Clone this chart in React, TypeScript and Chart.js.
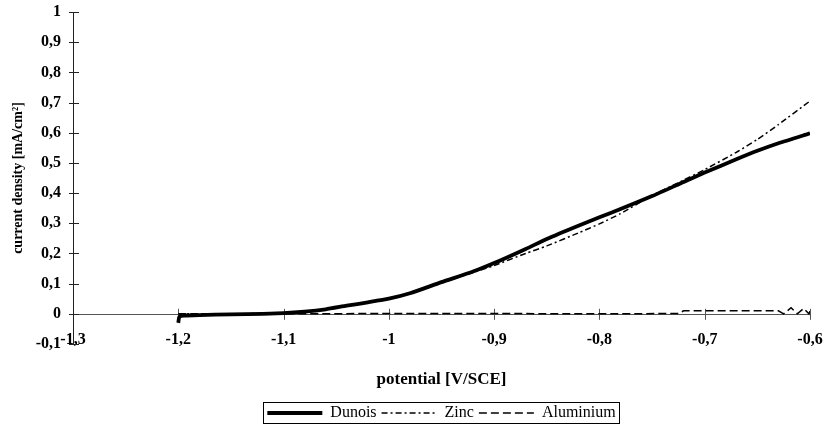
import React, { useEffect, useRef } from "react";
import { Chart, registerables } from "chart.js";

Chart.register(...registerables);

const xTicksMin = -1.3;
const xTicksMax = -0.6;
const yTicksMin = -0.1;
const yTicksMax = 1;

const dunoisX = [-1.2, -1.199, -1.195, -1.18, -1.15, -1.12, -1.1, -1.08, -1.06, -1.04, -1.02, -1.0, -0.98, -0.95, -0.92, -0.9, -0.87, -0.85, -0.82, -0.8, -0.78, -0.75, -0.72, -0.7, -0.67, -0.65, -0.63, -0.6];
const dunoisY = [-0.03, -0.01, -0.006, -0.004, -0.002, 0.0, 0.002, 0.007, 0.015, 0.027, 0.038, 0.05, 0.068, 0.105, 0.14, 0.168, 0.215, 0.248, 0.292, 0.32, 0.347, 0.39, 0.437, 0.468, 0.512, 0.54, 0.565, 0.598];

const zincX = [-1.2, -1.15, -1.1, -1.08, -1.06, -1.04, -1.02, -1.0, -0.98, -0.95, -0.92, -0.9, -0.87, -0.85, -0.82, -0.8, -0.78, -0.75, -0.72, -0.7, -0.67, -0.65, -0.63, -0.6];
const zincY = [0, 0, 0.002, 0.006, 0.014, 0.026, 0.037, 0.049, 0.067, 0.103, 0.137, 0.16, 0.2, 0.225, 0.268, 0.298, 0.332, 0.392, 0.443, 0.478, 0.535, 0.578, 0.627, 0.705];

const aluX = [-1.2, -1.1, -1.0, -0.9, -0.8, -0.725, -0.72, -0.63, -0.625, -0.618, -0.612, -0.606, -0.601, -0.598];
const aluY = [0, 0, 0.001, 0.001, 0, 0.001, 0.01, 0.01, 0.0, 0.02, 0.0, 0.018, 0.0, 0.025];

const seriesNames = ["Dunois", "Zinc", "Aluminium"];

const toPoints = (xs: number[], ys: number[]) => xs.map((x, i) => ({ x, y: ys[i] }));

const fmt = (v: number) => {
  if (Math.abs(v - Math.round(v)) < 1e-9) return String(Math.round(v));
  return v.toFixed(1).replace(".", ",");
};

const FONT = "'Liberation Serif', 'Times New Roman', serif";

const axesPlugin = {
  id: "axesPlugin",
  beforeDatasetsDraw(chart: any) {
    const { ctx, scales } = chart;
    const xs = scales.x;
    const ys = scales.y;
    const x0 = xs.getPixelForValue(xTicksMin);
    const y0 = ys.getPixelForValue(0);
    ctx.save();
    ctx.strokeStyle = "#555";
    ctx.lineWidth = 1;
    ctx.beginPath();
    ctx.moveTo(x0, Math.round(y0) + 0.5);
    ctx.lineTo(xs.getPixelForValue(xTicksMax), Math.round(y0) + 0.5);
    ctx.stroke();
    xs.ticks.forEach((t: any) => {
      const px = Math.round(xs.getPixelForValue(t.value)) + 0.5;
      ctx.beginPath();
      ctx.moveTo(px, y0 - 5);
      ctx.lineTo(px, y0 + 6);
      ctx.stroke();
    });
    ctx.strokeStyle = "#222";
    ctx.beginPath();
    ctx.moveTo(Math.round(x0) + 0.5, ys.getPixelForValue(yTicksMax));
    ctx.lineTo(Math.round(x0) + 0.5, ys.getPixelForValue(yTicksMin));
    ctx.stroke();
    ys.ticks.forEach((t: any) => {
      const py = Math.round(ys.getPixelForValue(t.value)) + 0.5;
      ctx.beginPath();
      ctx.moveTo(x0 - 4, py);
      ctx.lineTo(x0 + 6, py);
      ctx.stroke();
    });
    ctx.restore();
  },
  afterDraw(chart: any) {
    const lg = chart.legend;
    if (!lg || !lg.legendHitBoxes || !lg.legendHitBoxes.length) return;
    const boxes = lg.legendHitBoxes;
    let l = Infinity, r = -Infinity, t = Infinity, b = -Infinity;
    boxes.forEach((h: any) => {
      l = Math.min(l, h.left);
      r = Math.max(r, h.left + h.width);
      t = Math.min(t, h.top);
      b = Math.max(b, h.top + h.height);
    });
    const ctx = chart.ctx;
    ctx.save();
    ctx.strokeStyle = "#000";
    ctx.lineWidth = 1;
    ctx.strokeRect(Math.round(l - 4) + 0.5, Math.round(t - 3) + 0.5, Math.round(r - l + 8), Math.round(b - t + 5));
    ctx.restore();
  },
};

export default function App() {
  const ref = useRef<HTMLCanvasElement>(null);
  useEffect(() => {
    if (!ref.current) return;
    const chart = new Chart(ref.current, {
      type: "line",
      data: {
        datasets: [
          {
            label: seriesNames[0],
            data: toPoints(dunoisX, dunoisY),
            borderColor: "#000",
            borderWidth: 3.8,
            pointRadius: 0,
            tension: 0.2,
            fill: false,
          },
          {
            label: seriesNames[1],
            data: toPoints(zincX, zincY),
            borderColor: "#000",
            borderWidth: 1.5,
            borderDash: [6, 3, 2, 3],
            pointRadius: 0,
            tension: 0.2,
            fill: false,
          },
          {
            label: seriesNames[2],
            data: toPoints(aluX, aluY),
            borderColor: "#000",
            borderWidth: 1.5,
            borderDash: [8, 4],
            pointRadius: 0,
            tension: 0,
            fill: false,
          },
        ],
      },
      options: {
        responsive: false,
        animation: false,
        layout: { padding: { top: 12, right: 22, bottom: -3, left: 0 } },
        scales: {
          x: {
            type: "linear",
            position: "bottom",
            min: xTicksMin,
            max: xTicksMax,
            grid: { display: false, drawTicks: false },
            border: { display: false },
            ticks: {
              stepSize: 0.1,
              autoSkip: false,
              maxRotation: 0,
              mirror: true,
              padding: -5,
              color: "#000",
              font: { family: FONT, size: 16, weight: "bold" },
              callback: (v: any) => fmt(Number(v)),
            },
            title: {
              display: true,
              text: "potential [V/SCE]",
              color: "#000",
              font: { family: FONT, size: 17, weight: "bold" },
              padding: { top: 0, bottom: 10 },
            },
            afterFit: (s: any) => {
              s.height = 56;
            },
          },
          y: {
            type: "linear",
            position: "left",
            min: yTicksMin,
            max: yTicksMax,
            grid: { display: false, drawTicks: false },
            border: { display: false },
            ticks: {
              stepSize: 0.1,
              autoSkip: false,
              padding: 12,
              color: "#000",
              font: { family: FONT, size: 16, weight: "bold" },
              callback: (v: any) => fmt(Number(v)),
            },
            title: {
              display: true,
              text: "current density [mA/cm²]",
              color: "#000",
              font: { family: FONT, size: 14, weight: "bold" },
              padding: { top: 10, bottom: 0 },
            },
            afterFit: (s: any) => {
              s.width = 73;
              s.paddingTop = 0;
              s.paddingBottom = 0;
            },
          },
        },
        plugins: {
          tooltip: { enabled: false },
          legend: {
            display: true,
            position: "bottom",
            fullSize: false,
            labels: {
              usePointStyle: true,
              pointStyleWidth: 55,
              boxHeight: 16,
              padding: 5,
              color: "#000",
              font: { family: FONT, size: 16 },
              generateLabels: (c: any) =>
                c.data.datasets.map((d: any, i: number) => ({
                  text: d.label,
                  fillStyle: "rgba(0,0,0,0)",
                  strokeStyle: "#000",
                  lineWidth: d.borderWidth,
                  lineDash: d.borderDash || [],
                  pointStyle: "line",
                  hidden: false,
                  datasetIndex: i,
                  fontColor: "#000",
                })),
            },
          },
        },
      },
      plugins: [axesPlugin],
    });
    return () => chart.destroy();
  }, []);
  return (
    <div style={{ position: "absolute", left: 0, top: 0, width: 832, height: 428, background: "#fff" }}>
      <canvas ref={ref} width={832} height={428} />
    </div>
  );
}
